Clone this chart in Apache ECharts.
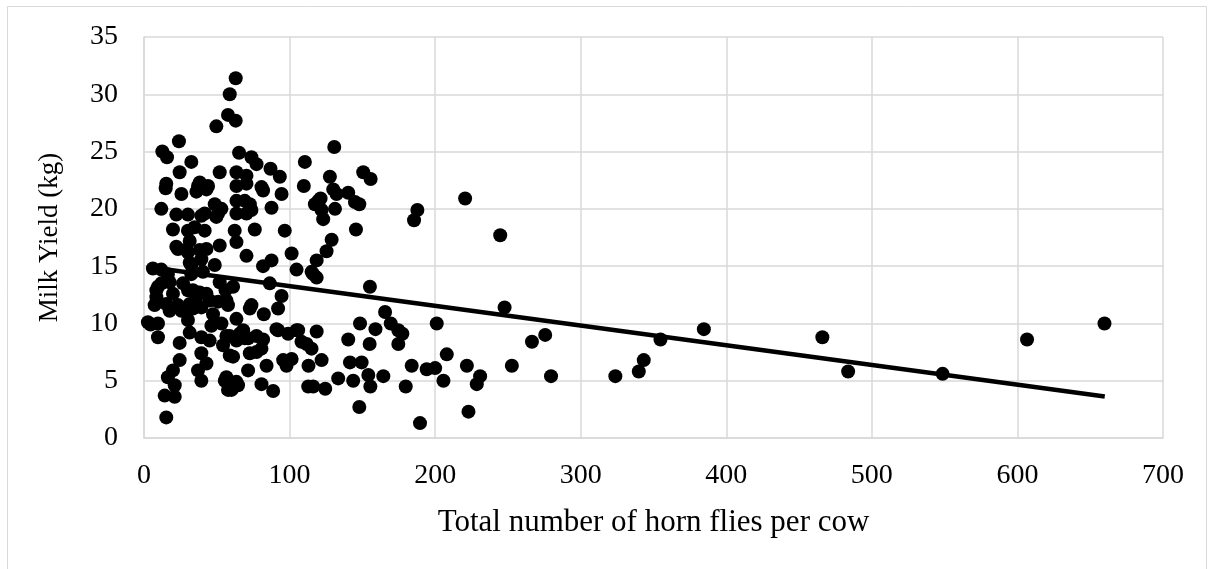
<!DOCTYPE html>
<html>
<head>
<meta charset="utf-8">
<script src="https://cdn.jsdelivr.net/npm/echarts@6/dist/echarts.min.js"></script>
<style>
  html, body { margin: 0; padding: 0; background: #fff; }
  #chart { width: 1211px; height: 569px; }
</style>
</head>
<body>
<div id="chart"></div>
<script>
// Horn flies per cow (x) and milk yield in kg (y)
const hornFlies = [
  12.6,15.8,24.0,32.5,24.5,15.3,14.9,25.7,37.1,44.0,36.0,38.3,42.9,11.9,22.2,30.2,39.4,41.7,19.9,30.2,34.8,41.7,48.6,50.9,49.7,23.3,30.2,38.3,22.2,31.4,29.1,42.9,52.0,49.7,
  6.1,11.9,16.4,32.5,40.5,48.6,31.4,39.4,32.5,15.3,9.6,8.5,8.5,11.9,17.6,26.8,19.9,30.2,36.0,33.6,38.3,42.9,15.3,23.3,31.4,7.3,45.1,47.4,17.6,25.7,33.6,39.4,
  2.7,9.6,4.5,9.6,30.2,31.4,24.5,46.3,39.4,45.1,24.5,19.9,16.4,21.1,14.2,21.1,15.3,39.4,42.9,37.1,39.4,
  63.0,58.9,57.7,63.0,65.3,73.8,77.3,86.9,93.3,52.0,63.5,70.4,80.7,63.5,70.4,81.8,94.5,63.5,69.2,72.7,53.2,63.5,70.4,73.8,87.6,62.3,76.1,96.7,63.5,70.4,81.8,87.6,101.4,104.8,
  52.0,61.2,56.0,86.4,94.5,50.9,57.7,56.6,73.8,72.7,82.3,92.1,53.2,63.5,56.6,54.3,58.9,63.5,68.1,65.8,71.5,77.3,81.8,69.2,80.7,72.7,77.3,61.2,58.9,91.0,99.0,104.8,92.1,105.9,
  84.2,95.6,101.4,97.9,71.5,56.6,55.5,57.7,64.6,63.5,60.1,80.7,88.7,
  110.5,130.7,109.8,127.7,130.0,132.3,140.3,150.6,155.7,121.3,117.4,119.7,131.2,122.0,144.9,147.9,123.1,145.6,128.9,125.4,118.6,116.2,118.6,115.1,
  155.2,165.6,148.4,159.0,169.5,174.7,177.5,174.7,140.3,155.0,118.6,111.7,115.1,108.2,122.0,113.0,141.5,149.5,154.1,164.4,155.5,143.7,133.4,112.8,116.2,124.5,179.8,147.9,
  187.8,185.5,220.6,244.7,247.7,183.9,194.2,200.0,205.7,208.0,201.1,221.8,230.9,228.6,222.9,189.6,252.7,266.5,275.6,279.6,
  323.8,339.9,343.3,354.8,384.6,466.0,483.7,548.6,606.6,659.8
];
const milkYield = [
  25.0,24.5,25.9,24.1,23.2,22.2,21.8,21.3,22.0,22.0,21.5,22.3,21.7,20.0,19.5,19.5,19.4,19.6,18.2,18.1,18.4,18.1,20.4,19.6,19.3,16.5,16.2,16.4,16.7,17.2,16.4,16.5,16.8,27.2,
  14.8,14.7,14.3,15.1,14.5,15.1,15.3,15.6,14.3,13.7,13.2,12.3,12.9,13.5,13.6,13.5,12.6,12.9,12.3,12.9,12.7,12.6,11.7,11.6,11.7,11.6,12.0,10.8,11.1,11.1,11.3,11.4,
  10.1,10.0,9.9,8.8,10.3,9.2,8.3,9.8,8.8,8.5,6.8,5.9,5.3,4.6,3.7,3.6,1.8,7.4,6.5,5.9,5.0,
  31.4,30.0,28.2,27.7,24.9,24.5,23.9,23.5,22.8,23.2,23.2,22.9,21.9,22.0,22.2,21.6,21.3,20.7,20.7,20.4,20.0,19.6,19.6,19.9,20.1,18.1,18.2,18.1,17.1,15.9,15.0,15.5,16.1,14.7,
  13.6,13.2,12.9,13.5,12.4,11.9,11.6,12.0,11.6,11.3,10.8,11.3,10.0,10.4,8.9,8.1,8.9,8.5,9.4,9.1,8.7,8.9,8.6,8.7,7.8,7.4,7.5,7.1,7.2,9.5,9.1,9.4,9.4,9.4,
  6.3,6.8,6.9,6.3,5.9,5.3,5.0,4.2,4.6,4.9,4.2,4.7,4.1,
  24.1,25.4,22.0,22.8,21.7,21.3,21.4,23.2,22.6,20.9,20.4,20.7,20.0,19.9,20.6,20.4,19.1,18.2,17.3,16.3,15.5,14.3,14.0,14.5,
  13.2,11.0,10.0,9.5,10.0,9.4,9.1,8.2,8.6,8.2,9.3,8.2,7.8,8.4,6.8,6.3,6.6,6.6,5.5,5.4,4.5,5.0,5.2,4.5,4.5,4.3,4.5,2.7,
  19.9,19.0,20.9,17.7,11.4,6.3,6.0,6.1,5.0,7.3,10.0,6.3,5.4,4.7,2.3,1.3,6.3,8.4,9.0,5.4,
  5.4,5.8,6.8,8.6,9.5,8.8,5.8,5.6,8.6,10.0
];
// Linear trend line end points
const trendX = [3, 660];
const trendY = [14.92, 3.62];
// Axis ticks
const xTicks = { min: 0, max: 700, interval: 100 };
const yTicks = { min: 0, max: 35, interval: 5 };

const points = hornFlies.map((x, i) => [x, milkYield[i]]);
const trend = trendX.map((x, i) => [x, trendY[i]]);

const FONT = '"Liberation Serif", "Times New Roman", serif';
const chart = echarts.init(document.getElementById('chart'));
chart.setOption({
  animation: false,
  backgroundColor: '#fff',
  textStyle: { fontFamily: FONT, color: '#000' },
  graphic: [{
    type: 'rect', left: 5, top: 4,
    shape: { width: 1199, height: 620 },
    style: { fill: 'none', stroke: '#d9d9d9', lineWidth: 1 },
    silent: true, z: -10
  }],
  grid: { left: 144, right: 48, top: 37, bottom: 131 },
  xAxis: {
    type: 'value', min: xTicks.min, max: xTicks.max, interval: xTicks.interval,
    name: 'Total number of horn flies per cow', nameLocation: 'middle', nameGap: 69,
    nameTextStyle: { fontFamily: FONT, fontSize: 31, color: '#000' },
    axisLine: { show: true, lineStyle: { color: '#d9d9d9', width: 1.5 } },
    axisTick: { show: false },
    axisLabel: { fontFamily: FONT, fontSize: 28, color: '#000', margin: 24 },
    splitLine: { show: true, lineStyle: { color: '#d9d9d9', width: 1.5 } }
  },
  yAxis: {
    type: 'value', min: yTicks.min, max: yTicks.max, interval: yTicks.interval,
    name: 'Milk Yield (kg)', nameLocation: 'middle', nameGap: 81,
    nameTextStyle: { fontFamily: FONT, fontSize: 27, color: '#000' },
    axisLine: { show: true, lineStyle: { color: '#d9d9d9', width: 1.5 } },
    axisTick: { show: false },
    axisLabel: { fontFamily: FONT, fontSize: 28, color: '#000', margin: 26 },
    splitLine: { show: true, lineStyle: { color: '#d9d9d9', width: 1.5 } }
  },
  series: [{
    type: 'scatter', data: points, symbolSize: 14,
    itemStyle: { color: '#000', opacity: 1 }, z: 3
  }, {
    type: 'line', data: trend, symbol: 'none',
    lineStyle: { color: '#000', width: 4.5 }, z: 4
  }]
});
</script>
</body>
</html>
